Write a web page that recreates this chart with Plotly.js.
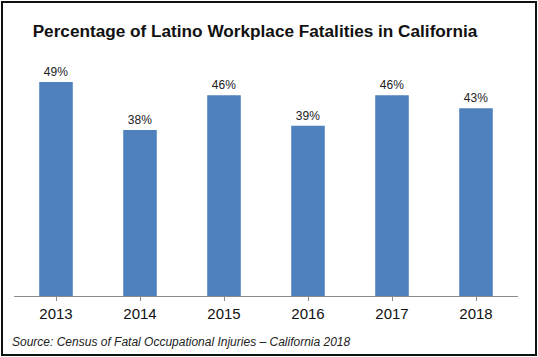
<!DOCTYPE html>
<html>
<head>
<meta charset="utf-8">
<script src="https://cdn.plot.ly/plotly-3.0.1.min.js"></script>
<style>
html,body{margin:0;padding:0;background:#fff;}
#wrap{position:relative;width:538px;height:357px;}
#chart{width:538px;height:357px;}
#frame{position:absolute;left:1px;top:1px;width:532px;height:351px;border:2px solid #111;pointer-events:none;}
</style>
</head>
<body>
<div id="wrap"><div id="chart"></div><div id="frame"></div></div>
<script>
const years = ['2013','2014','2015','2016','2017','2018'];
const pct = [49, 38, 46, 39, 46, 43];
const labels = ['49%','38%','46%','39%','46%','43%'];

const trace = {
  type: 'bar',
  x: years,
  y: pct,
  text: labels,
  textposition: 'outside',
  cliponaxis: false,
  textfont: {family: 'Liberation Sans, Arial, sans-serif', size: 12, color: '#222'},
  marker: {color: '#4F81BD'},
  hoverinfo: 'none'
};

const layout = {
  width: 538,
  height: 357,
  margin: {l: 14, r: 20, t: 34, b: 61},
  paper_bgcolor: '#fff',
  plot_bgcolor: '#fff',
  bargap: 0.6,
  showlegend: false,
  title: {
    text: '<b>Percentage of Latino Workplace Fatalities in California</b>',
    font: {family: 'Liberation Sans, Arial, sans-serif', size: 17.2, color: '#111'},
    x: 0.474, xref: 'container', xanchor: 'center',
    y: 0.913, yref: 'container', yanchor: 'middle'
  },
  xaxis: {
    showline: true, linecolor: '#8c8c8c', linewidth: 1,
    ticks: 'outside', tickson: 'boundaries', ticklen: 4, tickcolor: '#8c8c8c',
    tickfont: {family: 'Liberation Sans, Arial, sans-serif', size: 15, color: '#111'},
    showgrid: false, zeroline: false
  },
  yaxis: {
    range: [0, 60], visible: false, showgrid: false, zeroline: false
  },
  annotations: [{
    text: '<i>Source: Census of Fatal Occupational Injuries – California 2018</i>',
    xref: 'paper', yref: 'paper', x: -0.008, y: -0.175,
    xanchor: 'left', yanchor: 'middle', showarrow: false,
    font: {family: 'Liberation Sans, Arial, sans-serif', size: 12, color: '#222'}
  }]
};

Plotly.newPlot('chart', [trace], layout, {displayModeBar: false, staticPlot: true});
</script>
</body>
</html>
